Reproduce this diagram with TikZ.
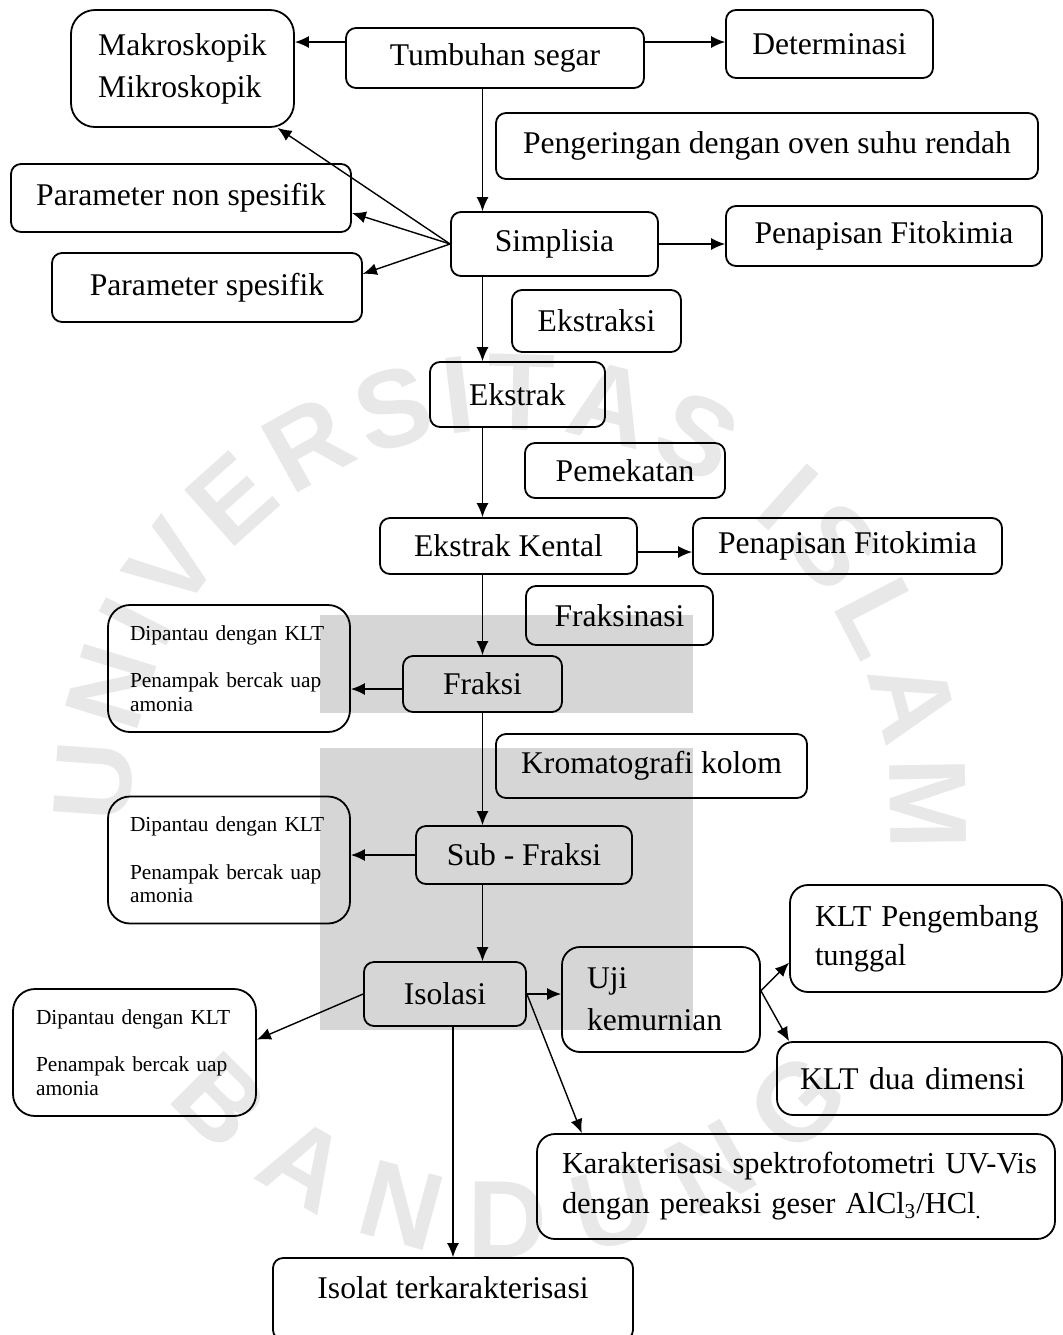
\documentclass[tikz,border=0pt]{standalone}
\usepackage{fontspec}
\setmainfont{Liberation Serif}
\newfontfamily\wmfont{Liberation Sans}
\usepackage{tikz}
\usetikzlibrary{shapes.geometric, arrows.meta, positioning, decorations.text}
\newcommand{\bigsize}{\fontsize{15.8}{21}\selectfont}
\newcommand{\notesize}{\fontsize{15.2}{19.5}\selectfont}
\newcommand{\smallsize}{\fontsize{10.7}{11.7}\selectfont}
\tikzset{
    stage/.style = {rectangle, rounded corners=5pt, draw=black, line width=0.9pt, inner sep=0pt, align=center, font=\bigsize},
    monitor/.style = {stage, rounded corners=11pt, align=left, text width=99pt, inner xsep=11pt, minimum height=63.5pt, font=\smallsize},
    arrow/.style = {line width=0.7pt, -{Latex[length=7pt, width=6pt]}},
    shade/.style = {fill=black!16, draw=none},
    wmark/.style = {decorate, decoration={text along path, text align={fit to path}, text color=black!9,
        text={|\wmfont\bfseries\fontsize{55}{55}\selectfont|#1}}}
}

\begin{document}
\begin{tikzpicture}[x=0.5pt, y=-0.5pt]
\useasboundingbox (0,0) rectangle (1063,1335);

% watermark
\fill[shade] (320,615) rectangle (693,713);
\fill[shade] (320,748) rectangle (693,1030);
\coordinate (wm) at (510,810);
\path[wmark={UNIVERSITAS ISLAM}] ([shift={(182:190pt)}]wm) arc[start angle=182, end angle=-6, radius=190pt];
\path[wmark={BANDUNG}] ([shift={(220:224pt)}]wm) arc[start angle=220, end angle=320, radius=224pt];

\coordinate (spine) at (482.5,0);
\coordinate (toprow) at (0,42);

% main chain
\node[stage, minimum width=149pt, minimum height=30pt] (tumb) at (495,58) {Tumbuhan segar};
\node[stage, minimum width=103.5pt, minimum height=32pt] (simpl) at (554.5,244) {Simplisia};
\node[stage, minimum width=87.5pt, minimum height=32.5pt] (ekstrak) at (517.5,394.5) {Ekstrak};
\node[stage, minimum width=128.5pt, minimum height=28pt] (kental) at (508.5,546) {Ekstrak Kental};
\node[stage, minimum width=79.5pt, minimum height=28pt] (fraksi) at (482.5,684) {Fraksi};
\node[stage, minimum width=108pt, minimum height=29pt] (subfr) at (524,855) {Sub - Fraksi};
\node[stage, minimum width=81pt, minimum height=32pt] (isol) at (445,994) {Isolasi};
\node[stage, minimum width=180pt, text height=20pt, text depth=21pt, inner ysep=0pt, anchor=base] (isolat) at (453,1298) {Isolat terkarakterisasi};

% process labels
\node[stage, minimum width=271pt, minimum height=33pt] (penger) at (767,146) {Pengeringan dengan oven suhu rendah};
\node[stage, minimum width=84.5pt, minimum height=31pt] (ekstraksi) at (596.5,321) {Ekstraksi};
\node[stage, minimum width=100pt, minimum height=27.5pt] (pemek) at (625,470.5) {Pemekatan};
\node[stage, minimum width=93.5pt, minimum height=29.5pt] (fraksinasi) at (619.5,615.5) {Fraksinasi};
\node[stage, minimum width=155.5pt, minimum height=32pt] (kroma) at (651.5,766) {Kromatografi kolom};

% side boxes
\node[stage, minimum width=111.5pt, minimum height=58.5pt, rounded corners=12pt, align=left] (makro) at (182.5,68.5) {Makroskopik\\Mikroskopik};
\node[stage, minimum width=103.5pt, minimum height=34pt] (deter) at (829.5,44) {Determinasi};
\node[stage, minimum width=170pt, minimum height=34pt] (paramnon) at (181,198) {Parameter non spesifik};
\node[stage, minimum width=155pt, minimum height=34.5pt] (paramsp) at (207,287.5) {Parameter spesifik};
\node[stage, minimum width=158pt, minimum height=30pt] (penap1) at (884,236) {Penapisan Fitokimia};
\node[stage, minimum width=154.5pt, minimum height=28pt] (penap2) at (847.5,546) {Penapisan Fitokimia};
\node[monitor] (dip1) at (229,668.5) {\mbox{Dipantau dengan KLT}\\[12pt]\mbox{Penampak bercak uap}\\\mbox{amonia}};
\node[monitor] (dip2) at (229,860) {\mbox{Dipantau dengan KLT}\\[12pt]\mbox{Penampak bercak uap}\\\mbox{amonia}};
\node[monitor, text width=98.5pt, inner xsep=11.5pt] (dip3) at (134.5,1052.5) {\mbox{Dipantau dengan KLT}\\[12pt]\mbox{Penampak bercak uap}\\\mbox{amonia}};
\node[stage, rounded corners=9pt, align=left, text width=74pt, inner xsep=12.5pt, minimum height=52.5pt] (uji) at (661,999.5) {\mbox{Uji}\\\mbox{kemurnian}};
\node[stage, rounded corners=9pt, align=left, text width=111pt, inner xsep=12.5pt, minimum height=53.5pt, font=\notesize] (kltp) at (926,938.5) {\mbox{KLT Pengembang}\\\mbox{tunggal}};
\node[stage, rounded corners=8pt, align=left, text width=119.5pt, inner xsep=11.5pt, minimum height=36.5pt] (klt2) at (919.5,1078.5) {\mbox{KLT dua dimensi}};
\node[stage, rounded corners=9pt, align=left, text width=234pt, inner xsep=12.5pt, minimum height=52.5pt, font={\fontsize{15.2}{20}\selectfont}] (karak) at (796,1186.5)
    {\mbox{Karakterisasi spektrofotometri UV-Vis}\\\mbox{dengan pereaksi geser AlCl\textsubscript{3}/HCl\textsubscript{.}}};

% connectors
\draw[arrow] (tumb.west |- toprow) -- (makro.east |- toprow);
\draw[arrow] (tumb.east |- toprow) -- (deter.west |- toprow);
\draw[arrow] (tumb.south -| spine) -- (simpl.north -| spine);
\draw[arrow] (simpl.west) -- (makro.-32);
\draw[arrow] (simpl.west) -- (paramnon.-5);
\draw[arrow] (simpl.west) -- (paramsp.5);
\draw[arrow] (simpl.east) -- (simpl.east -| penap1.west);
\draw[arrow] (simpl.south -| spine) -- (ekstrak.north -| spine);
\draw[arrow] (ekstrak.south -| spine) -- (kental.north -| spine);
\draw[arrow] ([yshift=-3pt]kental.east) -- ([yshift=-3pt]penap2.west);
\draw[arrow] (kental.south -| spine) -- (fraksi.north -| spine);
\draw[arrow] ([yshift=-2.5pt]fraksi.west) -- ([yshift=-2.5pt]fraksi.west -| dip1.east);
\draw[arrow] (fraksi.south -| spine) -- (subfr.north -| spine);
\draw[arrow] (subfr.west) -- (subfr.west -| dip2.east);
\draw[arrow] (subfr.south -| spine) -- (isol.north -| spine);
\draw[arrow] (isol.east) -- (isol.east -| uji.west);
\draw[arrow] (isol.west) -- (dip3.6);
\draw[arrow] (isol.east) -- (karak.166);
\draw[arrow] (isol.south -| isolat.north) -- (isolat.north);
\draw[arrow] (uji.5) -- (kltp.190);
\draw[arrow] (uji.5) -- (klt2.164);
\end{tikzpicture}
\end{document}
